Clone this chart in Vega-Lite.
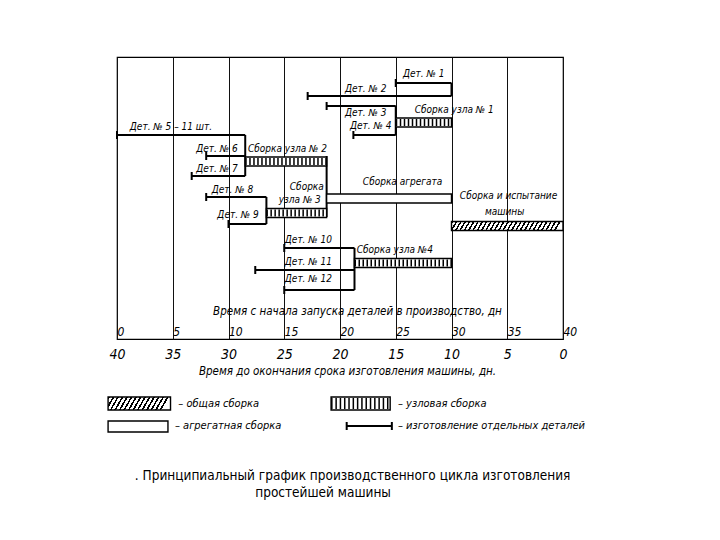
{
  "$schema": "https://vega.github.io/schema/vega-lite/v6.json",
  "autosize": "none",
  "width": 446,
  "height": 282,
  "padding": {"left": 117, "top": 57, "right": 157, "bottom": 201},
  "background": "white",
  "config": {
    "view": {"stroke": "black", "strokeWidth": 1.2},
    "text": {"font": "DejaVu Sans Condensed", "fontStyle": "italic", "fontSize": 10, "align": "left", "baseline": "middle", "color": "black"}
  },
  "datasets": {
    "details": [
      {"name": "Дет. № 1", "start": 25, "end": 30, "lane": 2.6},
      {"name": "Дет. № 2", "start": 17.1, "end": 30, "lane": 3.9},
      {"name": "Дет. № 3", "start": 18.8, "end": 25, "lane": 4.9},
      {"name": "Дет. № 4", "start": 21.2, "end": 25, "lane": 7.8},
      {"name": "Дет. № 5", "start": 0, "end": 11.5, "lane": 7.8},
      {"name": "Дет. № 6", "start": 8.0, "end": 11.5, "lane": 9.9},
      {"name": "Дет. № 7", "start": 6.7, "end": 11.5, "lane": 11.9},
      {"name": "Дет. № 8", "start": 8.0, "end": 13.4, "lane": 14.0},
      {"name": "Дет. № 9", "start": 10, "end": 13.4, "lane": 16.7},
      {"name": "Дет. № 10", "start": 15, "end": 21.3, "lane": 19.1},
      {"name": "Дет. № 11", "start": 12.4, "end": 21.3, "lane": 21.3},
      {"name": "Дет. № 12", "start": 15, "end": 21.3, "lane": 23.3}
    ],
    "assemblies": [
      {"name": "Сборка узла № 1", "kind": "node", "start": 25, "end": 30, "lane": 6.55},
      {"name": "Сборка узла № 2", "kind": "node", "start": 11.5, "end": 18.8, "lane": 10.45},
      {"name": "Сборка узла № 3", "kind": "node", "start": 13.4, "end": 18.8, "lane": 15.6},
      {"name": "Сборка узла № 4", "kind": "node", "start": 21.3, "end": 30, "lane": 20.6},
      {"name": "Сборка агрегата", "kind": "aggregate", "start": 18.8, "end": 30, "lane": 14.15},
      {"name": "Сборка и испытание машины", "kind": "general", "start": 30, "end": 40, "lane": 16.9}
    ],
    "connectors": [
      {"start": 30, "lane": 2.6, "lane2": 3.9},
      {"start": 25, "lane": 4.9, "lane2": 7.8},
      {"start": 11.5, "lane": 7.8, "lane2": 11.9},
      {"start": 18.8, "lane": 9.9, "lane2": 16.0},
      {"start": 13.4, "lane": 14.0, "lane2": 16.7},
      {"start": 21.3, "lane": 19.1, "lane2": 23.3}
    ],
    "labels": [
      {"text": "Дет. № 1", "start": 25.65, "lane": 1.65},
      {"text": "Дет. № 2", "start": 20.45, "lane": 3.2},
      {"text": "Сборка узла № 1", "start": 26.7, "lane": 5.3},
      {"text": "Дет. № 3", "start": 20.45, "lane": 5.6},
      {"text": "Дет. № 4", "start": 20.9, "lane": 6.9},
      {"text": "Дет. № 5 – 11 шт.", "start": 1.15, "lane": 7.0},
      {"text": "Дет. № 6", "start": 7.1, "lane": 9.2},
      {"text": "Сборка узла № 2", "start": 11.75, "lane": 9.2},
      {"text": "Дет. № 7", "start": 7.1, "lane": 11.2},
      {"text": "Дет. № 8", "start": 8.5, "lane": 13.3},
      {"text": "Сборка", "start": 15.5, "lane": 13.0},
      {"text": "узла № 3", "start": 14.5, "lane": 14.3},
      {"text": "Дет. № 9", "start": 9.0, "lane": 15.8},
      {"text": "Сборка агрегата", "start": 22.05, "lane": 12.5},
      {"text": "Сборка и испытание", "start": 30.75, "lane": 13.9},
      {"text": "машины", "start": 33.0, "lane": 15.5},
      {"text": "Дет. № 10", "start": 15.05, "lane": 18.3},
      {"text": "Сборка узла №4", "start": 21.5, "lane": 19.3},
      {"text": "Дет. № 11", "start": 15.05, "lane": 20.5},
      {"text": "Дет. № 12", "start": 15.05, "lane": 22.2}
    ],
    "legend": [
      {"kind": "general", "start": -0.8, "end": 4.8, "lane": 34.65},
      {"kind": "node", "start": 19.2, "end": 24.5, "lane": 34.65},
      {"kind": "aggregate", "start": -0.8, "end": 4.57, "lane": 36.95},
      {"kind": "detail", "start": 20.6, "end": 24.65, "lane": 36.9}
    ],
    "legendText": [
      {"text": "– общая сборка", "start": 5.5, "lane": 34.65},
      {"text": "– узловая сборка", "start": 25.2, "lane": 34.65},
      {"text": "– агрегатная сборка", "start": 5.2, "lane": 36.9},
      {"text": "– изготовление отдельных деталей", "start": 25.2, "lane": 36.9}
    ],
    "caption": [
      {"text": ". Принципиальный график производственного цикла изготовления", "start": 1.6, "lane": 41.9},
      {"text": "простейшей машины", "start": 12.4, "lane": 43.6}
    ]
  },
  "encoding": {
    "x": {"field": "start", "type": "quantitative", "scale": {"domain": [0, 40], "nice": false, "zero": false, "padding": 0}, "axis": null},
    "y": {"field": "lane", "type": "quantitative", "scale": {"domain": [0, 28.2], "nice": false, "zero": false, "reverse": true, "padding": 0}, "axis": null}
  },
  "layer": [
    {
      "data": {"values": [{"start": 0, "lane": 0}]},
      "mark": {"type": "point", "opacity": 0},
      "encoding": {
        "x": {"field": "start", "type": "quantitative", "scale": {"domain": [0, 40], "nice": false, "zero": false, "padding": 0},
          "axis": {"orient": "bottom", "values": [0, 5, 10, 15, 20, 25, 30, 35, 40], "grid": true, "gridColor": "#111", "gridWidth": 1, "domain": false, "ticks": false, "tickSize": 0,
            "labelAlign": "left", "labelBaseline": "alphabetic", "labelPadding": -4, "labelDx": 3, "labelFlush": false, "labelOverlap": false,
            "labelFont": "DejaVu Sans Condensed", "labelFontStyle": "italic", "labelFontSize": 12, "labelColor": "black",
            "title": "Время с начала запуска деталей в производство, дн", "titleX": 240, "titleY": -25, "titleBaseline": "alphabetic", "titleAlign": "center",
            "titleFont": "DejaVu Sans Condensed", "titleFontStyle": "italic", "titleFontWeight": "normal", "titleFontSize": 11.5, "titleColor": "black"}}
      }
    },
    {
      "data": {"values": [{"start": 0, "lane": 0}]},
      "mark": {"type": "point", "opacity": 0},
      "encoding": {
        "x": {"field": "start", "type": "quantitative", "scale": {"domain": [0, 40], "nice": false, "zero": false, "padding": 0},
          "axis": {"orient": "bottom", "values": [0, 5, 10, 15, 20, 25, 30, 35, 40], "grid": false, "domain": false, "ticks": false, "tickSize": 0,
            "labelExpr": "40 - datum.value", "labelAlign": "center", "labelBaseline": "top", "labelPadding": 8, "labelFlush": false, "labelOverlap": false,
            "labelFont": "DejaVu Sans Condensed", "labelFontStyle": "italic", "labelFontSize": 14, "labelColor": "black",
            "title": "Время до окончания срока изготовления машины, дн.", "titleX": 230, "titleY": 35, "titleBaseline": "alphabetic", "titleAlign": "center",
            "titleFont": "DejaVu Sans Condensed", "titleFontStyle": "italic", "titleFontWeight": "normal", "titleFontSize": 11.5, "titleColor": "black"}}
      }
    },
    {
      "data": {"name": "details"},
      "mark": {"type": "rule", "strokeWidth": 2, "color": "black"},
      "encoding": {"x2": {"field": "end"}}
    },
    {
      "data": {"name": "details"},
      "mark": {"type": "point", "shape": "M0,-1L0,1", "size": 64, "filled": false, "stroke": "black", "strokeWidth": 2, "opacity": 1}
    },
    {
      "data": {"name": "connectors"},
      "mark": {"type": "rule", "strokeWidth": 2, "color": "black"},
      "encoding": {"y2": {"field": "lane2"}}
    },
    {
      "data": {"name": "assemblies"},
      "transform": [{"filter": "datum.kind === 'node'"}],
      "mark": {"type": "bar", "orient": "horizontal", "size": 9, "fill": "white", "stroke": "black", "strokeWidth": 1.4},
      "encoding": {"x2": {"field": "end"}}
    },
    {
      "data": {"name": "assemblies"},
      "transform": [{"filter": "datum.kind === 'node'"}],
      "mark": {"type": "rule", "strokeWidth": 7, "strokeDash": [1.5, 2.5], "color": "black"},
      "encoding": {"x2": {"field": "end"}}
    },
    {
      "data": {"name": "assemblies"},
      "transform": [{"filter": "datum.kind === 'aggregate'"}],
      "mark": {"type": "bar", "orient": "horizontal", "size": 9, "fill": "white", "stroke": "black", "strokeWidth": 1.4},
      "encoding": {"x2": {"field": "end"}}
    },
    {
      "data": {"name": "assemblies"},
      "transform": [{"filter": "datum.kind === 'general'"}],
      "mark": {"type": "bar", "orient": "horizontal", "size": 9, "stroke": "black", "strokeWidth": 1.4,
        "fill": {"gradient": "linear", "x1": 0, "y1": 0, "x2": 1, "y2": 0.047, "stops": [
          {"offset": 0, "color": "black"}, {"offset": 0.0154, "color": "black"}, {"offset": 0.0154, "color": "white"}, {"offset": 0.0385, "color": "white"},
          {"offset": 0.0385, "color": "black"}, {"offset": 0.0538, "color": "black"}, {"offset": 0.0538, "color": "white"}, {"offset": 0.0769, "color": "white"},
          {"offset": 0.0769, "color": "black"}, {"offset": 0.0923, "color": "black"}, {"offset": 0.0923, "color": "white"}, {"offset": 0.1154, "color": "white"},
          {"offset": 0.1154, "color": "black"}, {"offset": 0.1308, "color": "black"}, {"offset": 0.1308, "color": "white"}, {"offset": 0.1538, "color": "white"},
          {"offset": 0.1538, "color": "black"}, {"offset": 0.1692, "color": "black"}, {"offset": 0.1692, "color": "white"}, {"offset": 0.1923, "color": "white"},
          {"offset": 0.1923, "color": "black"}, {"offset": 0.2077, "color": "black"}, {"offset": 0.2077, "color": "white"}, {"offset": 0.2308, "color": "white"},
          {"offset": 0.2308, "color": "black"}, {"offset": 0.2462, "color": "black"}, {"offset": 0.2462, "color": "white"}, {"offset": 0.2692, "color": "white"},
          {"offset": 0.2692, "color": "black"}, {"offset": 0.2846, "color": "black"}, {"offset": 0.2846, "color": "white"}, {"offset": 0.3077, "color": "white"},
          {"offset": 0.3077, "color": "black"}, {"offset": 0.3231, "color": "black"}, {"offset": 0.3231, "color": "white"}, {"offset": 0.3462, "color": "white"},
          {"offset": 0.3462, "color": "black"}, {"offset": 0.3615, "color": "black"}, {"offset": 0.3615, "color": "white"}, {"offset": 0.3846, "color": "white"},
          {"offset": 0.3846, "color": "black"}, {"offset": 0.4, "color": "black"}, {"offset": 0.4, "color": "white"}, {"offset": 0.4231, "color": "white"},
          {"offset": 0.4231, "color": "black"}, {"offset": 0.4385, "color": "black"}, {"offset": 0.4385, "color": "white"}, {"offset": 0.4615, "color": "white"},
          {"offset": 0.4615, "color": "black"}, {"offset": 0.4769, "color": "black"}, {"offset": 0.4769, "color": "white"}, {"offset": 0.5, "color": "white"},
          {"offset": 0.5, "color": "black"}, {"offset": 0.5154, "color": "black"}, {"offset": 0.5154, "color": "white"}, {"offset": 0.5385, "color": "white"},
          {"offset": 0.5385, "color": "black"}, {"offset": 0.5538, "color": "black"}, {"offset": 0.5538, "color": "white"}, {"offset": 0.5769, "color": "white"},
          {"offset": 0.5769, "color": "black"}, {"offset": 0.5923, "color": "black"}, {"offset": 0.5923, "color": "white"}, {"offset": 0.6154, "color": "white"},
          {"offset": 0.6154, "color": "black"}, {"offset": 0.6308, "color": "black"}, {"offset": 0.6308, "color": "white"}, {"offset": 0.6538, "color": "white"},
          {"offset": 0.6538, "color": "black"}, {"offset": 0.6692, "color": "black"}, {"offset": 0.6692, "color": "white"}, {"offset": 0.6923, "color": "white"},
          {"offset": 0.6923, "color": "black"}, {"offset": 0.7077, "color": "black"}, {"offset": 0.7077, "color": "white"}, {"offset": 0.7308, "color": "white"},
          {"offset": 0.7308, "color": "black"}, {"offset": 0.7462, "color": "black"}, {"offset": 0.7462, "color": "white"}, {"offset": 0.7692, "color": "white"},
          {"offset": 0.7692, "color": "black"}, {"offset": 0.7846, "color": "black"}, {"offset": 0.7846, "color": "white"}, {"offset": 0.8077, "color": "white"},
          {"offset": 0.8077, "color": "black"}, {"offset": 0.8231, "color": "black"}, {"offset": 0.8231, "color": "white"}, {"offset": 0.8462, "color": "white"},
          {"offset": 0.8462, "color": "black"}, {"offset": 0.8615, "color": "black"}, {"offset": 0.8615, "color": "white"}, {"offset": 0.8846, "color": "white"},
          {"offset": 0.8846, "color": "black"}, {"offset": 0.9, "color": "black"}, {"offset": 0.9, "color": "white"}, {"offset": 0.9231, "color": "white"},
          {"offset": 0.9231, "color": "black"}, {"offset": 0.9385, "color": "black"}, {"offset": 0.9385, "color": "white"}, {"offset": 0.9615, "color": "white"},
          {"offset": 0.9615, "color": "black"}, {"offset": 0.9769, "color": "black"}, {"offset": 0.9769, "color": "white"}, {"offset": 1, "color": "white"}
        ]}},
      "encoding": {"x2": {"field": "end"}}
    },
    {
      "data": {"name": "labels"},
      "mark": {"type": "text"},
      "encoding": {"text": {"field": "text"}}
    },
    {
      "data": {"name": "legend"},
      "transform": [{"filter": "datum.kind === 'general'"}],
      "mark": {"type": "bar", "orient": "horizontal", "size": 13, "stroke": "black", "strokeWidth": 1.4,
        "fill": {"gradient": "linear", "x1": 0, "y1": 0, "x2": 1, "y2": 0.12, "stops": [
          {"offset": 0, "color": "black"}, {"offset": 0.0286, "color": "black"}, {"offset": 0.0286, "color": "white"}, {"offset": 0.0714, "color": "white"},
          {"offset": 0.0714, "color": "black"}, {"offset": 0.1, "color": "black"}, {"offset": 0.1, "color": "white"}, {"offset": 0.1429, "color": "white"},
          {"offset": 0.1429, "color": "black"}, {"offset": 0.1714, "color": "black"}, {"offset": 0.1714, "color": "white"}, {"offset": 0.2143, "color": "white"},
          {"offset": 0.2143, "color": "black"}, {"offset": 0.2429, "color": "black"}, {"offset": 0.2429, "color": "white"}, {"offset": 0.2857, "color": "white"},
          {"offset": 0.2857, "color": "black"}, {"offset": 0.3143, "color": "black"}, {"offset": 0.3143, "color": "white"}, {"offset": 0.3571, "color": "white"},
          {"offset": 0.3571, "color": "black"}, {"offset": 0.3857, "color": "black"}, {"offset": 0.3857, "color": "white"}, {"offset": 0.4286, "color": "white"},
          {"offset": 0.4286, "color": "black"}, {"offset": 0.4571, "color": "black"}, {"offset": 0.4571, "color": "white"}, {"offset": 0.5, "color": "white"},
          {"offset": 0.5, "color": "black"}, {"offset": 0.5286, "color": "black"}, {"offset": 0.5286, "color": "white"}, {"offset": 0.5714, "color": "white"},
          {"offset": 0.5714, "color": "black"}, {"offset": 0.6, "color": "black"}, {"offset": 0.6, "color": "white"}, {"offset": 0.6429, "color": "white"},
          {"offset": 0.6429, "color": "black"}, {"offset": 0.6714, "color": "black"}, {"offset": 0.6714, "color": "white"}, {"offset": 0.7143, "color": "white"},
          {"offset": 0.7143, "color": "black"}, {"offset": 0.7429, "color": "black"}, {"offset": 0.7429, "color": "white"}, {"offset": 0.7857, "color": "white"},
          {"offset": 0.7857, "color": "black"}, {"offset": 0.8143, "color": "black"}, {"offset": 0.8143, "color": "white"}, {"offset": 0.8571, "color": "white"},
          {"offset": 0.8571, "color": "black"}, {"offset": 0.8857, "color": "black"}, {"offset": 0.8857, "color": "white"}, {"offset": 0.9286, "color": "white"},
          {"offset": 0.9286, "color": "black"}, {"offset": 0.9571, "color": "black"}, {"offset": 0.9571, "color": "white"}, {"offset": 1, "color": "white"}
        ]}},
      "encoding": {"x2": {"field": "end"}}
    },
    {
      "data": {"name": "legend"},
      "transform": [{"filter": "datum.kind === 'node' || datum.kind === 'aggregate'"}],
      "mark": {"type": "bar", "orient": "horizontal", "fill": "white", "stroke": "black", "strokeWidth": 1.4},
      "encoding": {"x2": {"field": "end"}, "size": {"condition": {"test": "datum.kind === 'node'", "value": 13}, "value": 11}}
    },
    {
      "data": {"name": "legend"},
      "transform": [{"filter": "datum.kind === 'node'"}],
      "mark": {"type": "rule", "strokeWidth": 11, "strokeDash": [1.5, 2.8], "color": "black"},
      "encoding": {"x2": {"field": "end"}}
    },
    {
      "data": {"name": "legend"},
      "transform": [{"filter": "datum.kind === 'detail'"}],
      "mark": {"type": "rule", "strokeWidth": 2, "color": "black"},
      "encoding": {"x2": {"field": "end"}}
    },
    {
      "data": {"name": "legend"},
      "transform": [{"filter": "datum.kind === 'detail'"}],
      "mark": {"type": "point", "shape": "M0,-1L0,1", "size": 64, "filled": false, "stroke": "black", "strokeWidth": 2, "opacity": 1}
    },
    {
      "data": {"name": "legend"},
      "transform": [{"filter": "datum.kind === 'detail'"}],
      "mark": {"type": "point", "shape": "M0,-1L0,1", "size": 64, "filled": false, "stroke": "black", "strokeWidth": 2, "opacity": 1},
      "encoding": {"x": {"field": "end", "type": "quantitative", "scale": {"domain": [0, 40], "nice": false, "zero": false, "padding": 0}, "axis": null}}
    },
    {
      "data": {"name": "legendText"},
      "mark": {"type": "text", "fontSize": 11},
      "encoding": {"text": {"field": "text"}}
    },
    {
      "data": {"name": "caption"},
      "mark": {"type": "text", "font": "DejaVu Sans Condensed", "fontStyle": "normal", "fontSize": 13.5},
      "encoding": {"text": {"field": "text"}}
    }
  ],
  "resolve": {"axis": {"x": "independent"}}
}
